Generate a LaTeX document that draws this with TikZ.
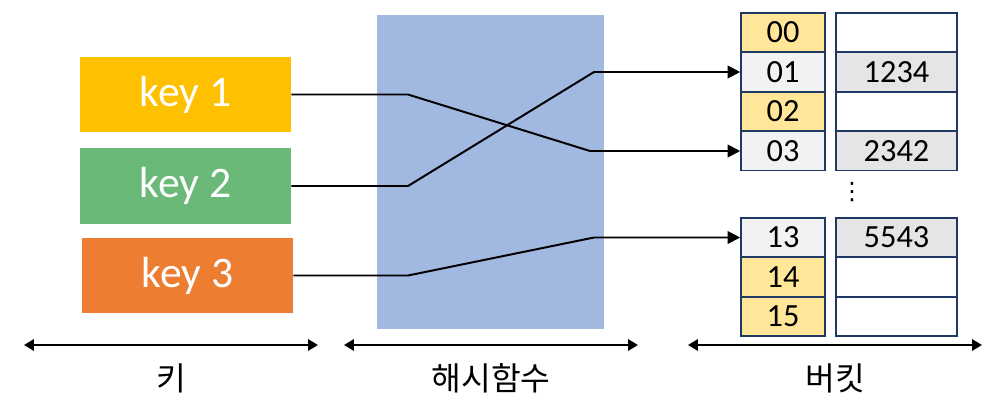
\documentclass[tikz,border=0pt]{standalone}
\usepackage{fontspec}
\setmainfont{Carlito}
\newfontfamily\krfont{Noto Sans CJK KR}
\newfontfamily\symfont{DejaVu Sans}
\usepackage{tikz}
\usetikzlibrary{arrows.meta}

\definecolor{keyA}{RGB}{255,192,0}
\definecolor{keyB}{RGB}{106,185,121}
\definecolor{keyC}{RGB}{237,125,49}
\definecolor{hashbg}{RGB}{161,184,225}
\definecolor{slotY}{RGB}{255,230,153}
\definecolor{slotG}{RGB}{242,242,242}
\definecolor{valG}{RGB}{229,229,229}
\definecolor{navy}{RGB}{31,56,100}

\begin{document}
\begin{tikzpicture}[x=0.025cm, y=-0.025cm,
	key/.style={rectangle, minimum width=5.275cm, minimum height=1.875cm, inner sep=0pt, text=white, font=\fontsize{31}{36}\selectfont},
	slot/.style={rectangle, draw=navy, line width=1.1pt, minimum width=2.1cm, minimum height=0.985cm, inner sep=0pt, font=\fontsize{23}{26}\selectfont},
	cell/.style={slot, minimum width=3.025cm},
	link/.style={line width=1.4pt},
	span/.style={line width=1.4pt, {Triangle[length=7pt,width=8pt]}-{Triangle[length=7pt,width=8pt]}},
	axis/.style={font=\krfont\fontsize{23}{26}\selectfont}]
\useasboundingbox (0,0) rectangle (1000,404);

% hash function area
\fill[hashbg] (377,15) rectangle (604,329);

% keys
\node (k1) at (185.5,94.5) [key, fill=keyA] {key 1};
\node (k2) at (185.5,186) [key, fill=keyB] {key 2};
\node (k3) at (187.5,275.5) [key, fill=keyC] {key 3};

% buckets
\node (c00) at (783,32.5) [slot, fill=slotY] {00};
\node (c01) at (783,72) [slot, fill=slotG] {01};
\node (c02) at (783,111.5) [slot, fill=slotY] {02};
\node (c03) at (783,151) [slot, fill=slotG] {03};
\node (c13) at (783,237.5) [slot, fill=slotG] {13};
\node (c14) at (783,277) [slot, fill=slotY] {14};
\node (c15) at (783,316.5) [slot, fill=slotY] {15};
	\node (v00) at (896.5,32.5) [cell, fill=white] {};
	\node (v01) at (896.5,72) [cell, fill=valG] {1234};
	\node (v02) at (896.5,111.5) [cell, fill=white] {};
	\node (v03) at (896.5,151) [cell, fill=valG] {2342};
	\node (v13) at (896.5,237.5) [cell, fill=valG] {5543};
	\node (v14) at (896.5,277) [cell, fill=white] {};
	\node (v15) at (896.5,316.5) [cell, fill=white] {};
\node (dots) at (852,192) [inner sep=0pt, font=\symfont\fontsize{17}{17}\selectfont] {⋮};

% hashing
\coordinate (h1) at (408,94.5);
\coordinate (h1b) at (590,151);
\coordinate (h2) at (408,186);
\coordinate (h2b) at (594,72);
\coordinate (h3) at (408,275.5);
\coordinate (h3b) at (594,237.5);
\draw[link, -{Triangle[length=9pt,width=9pt]}] (k1.east) -- (h1) -- (h1b) -- (c03.west);
\draw[link, -{Triangle[length=9pt,width=9pt]}] (k2.east) -- (h2) -- (h2b) -- (c01.west);
\draw[link, -{Triangle[length=9pt,width=9pt]}] (k3.east) -- (h3) -- (h3b) -- (c13.west);

% axes
\coordinate (a1) at (24,345);
\coordinate (a2) at (318,345);
\coordinate (a3) at (344,345);
\coordinate (a4) at (638,345);
\coordinate (a5) at (688,345);
\coordinate (a6) at (982,345);
\draw[span] (a1) -- (a2);
\draw[span] (a3) -- (a4);
\draw[span] (a5) -- (a6);
\node (l1) at (171,378) [axis] {키};
\node (l2) at (491,378) [axis] {해시함수};
\node (l3) at (835,378) [axis] {버킷};
\end{tikzpicture}
\end{document}
